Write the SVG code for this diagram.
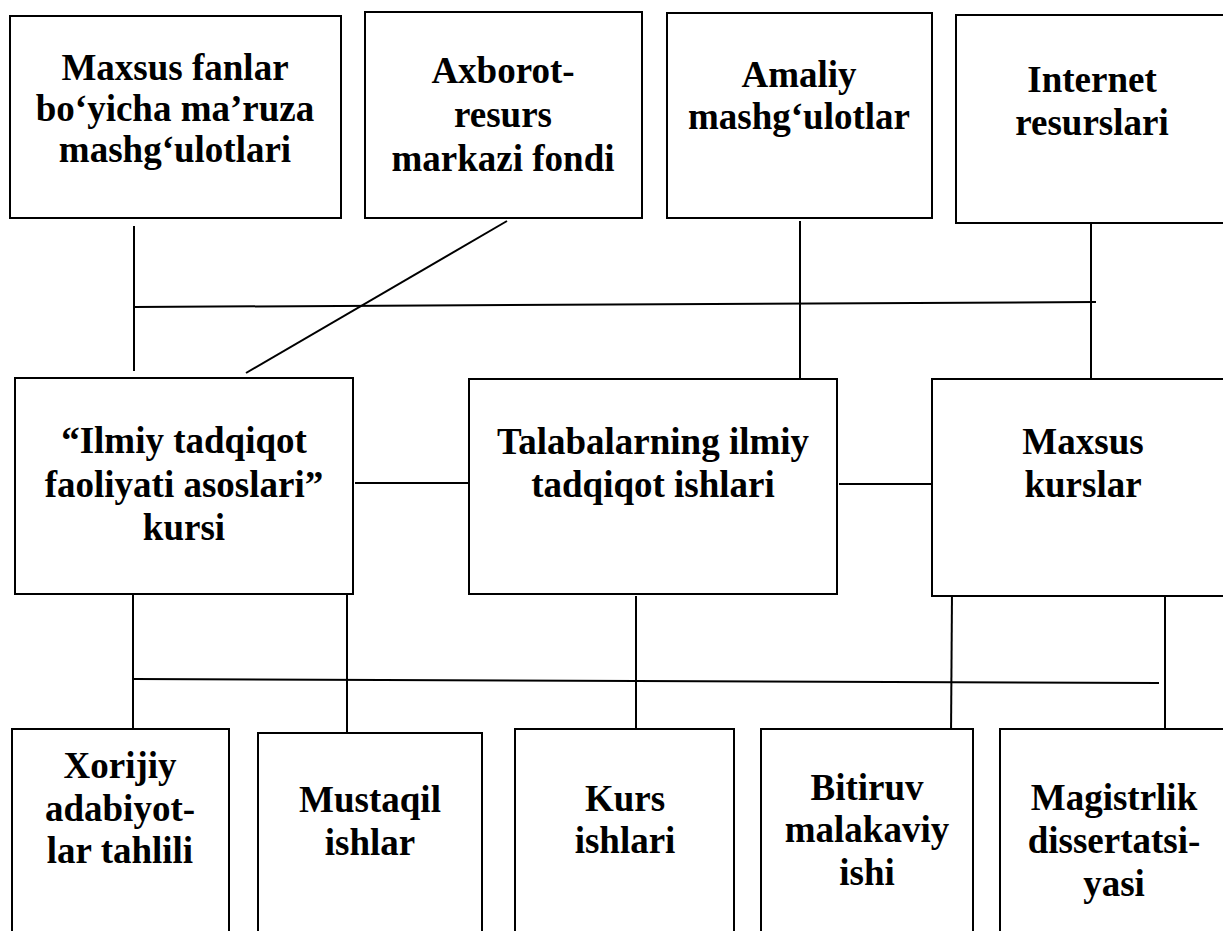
<svg xmlns="http://www.w3.org/2000/svg" width="1223" height="931" viewBox="0 0 1223 931">
<style>
.box{fill:#fff;stroke:#000;stroke-width:2}
.t{font-family:"Liberation Serif","Times New Roman",serif;font-weight:bold;font-size:37px;text-anchor:middle;fill:#000}
.c{stroke:#000;stroke-width:2;fill:none}
</style>
<rect width="1223" height="931" fill="#fff"/>
<g id="connectors">
<line class="c" x1="134" y1="226" x2="134" y2="371"/>
<line class="c" x1="134" y1="307" x2="1096" y2="302"/>
<line class="c" x1="507" y1="221" x2="246" y2="373"/>
<line class="c" x1="800" y1="221" x2="800" y2="382"/>
<line class="c" x1="1091" y1="221" x2="1091" y2="379"/>
<line class="c" x1="355" y1="483" x2="469" y2="483"/>
<line class="c" x1="839" y1="484" x2="938" y2="484"/>
<line class="c" x1="133" y1="594" x2="133" y2="729"/>
<line class="c" x1="347" y1="592" x2="347" y2="736"/>
<line class="c" x1="134" y1="679" x2="1159" y2="683"/>
<line class="c" x1="636" y1="596" x2="636" y2="732"/>
<line class="c" x1="952" y1="592" x2="951" y2="736"/>
<line class="c" x1="1165" y1="590" x2="1165" y2="733"/>
</g>
<g id="n1"><rect class="box" x="10" y="16" width="331" height="202"/>
<text class="t"><tspan x="175" y="80">Maxsus fanlar</tspan><tspan x="175" y="121">bo‘yicha ma’ruza</tspan><tspan x="175" y="162">mashg‘ulotlari</tspan></text></g>
<g id="n2"><rect class="box" x="365" y="12" width="277" height="206"/>
<text class="t"><tspan x="503" y="83">Axborot-</tspan><tspan x="503" y="127">resurs</tspan><tspan x="503" y="171">markazi fondi</tspan></text></g>
<g id="n3"><rect class="box" x="667" y="13" width="265" height="205"/>
<text class="t"><tspan x="799" y="87">Amaliy</tspan><tspan x="799" y="129">mashg‘ulotlar</tspan></text></g>
<g id="n4"><rect class="box" x="956" y="15" width="280" height="208"/>
<text class="t"><tspan x="1092" y="92">Internet</tspan><tspan x="1092" y="135">resurslari</tspan></text></g>
<g id="n5"><rect class="box" x="15" y="378" width="338" height="216"/>
<text class="t"><tspan x="184" y="453">“Ilmiy tadqiqot</tspan><tspan x="184" y="497">faoliyati asoslari”</tspan><tspan x="184" y="540">kursi</tspan></text></g>
<g id="n6"><rect class="box" x="469" y="379" width="368" height="215"/>
<text class="t"><tspan x="653" y="454">Talabalarning ilmiy</tspan><tspan x="653" y="497">tadqiqot ishlari</tspan></text></g>
<g id="n7"><rect class="box" x="932" y="379" width="300" height="217"/>
<text class="t"><tspan x="1083" y="454">Maxsus</tspan><tspan x="1083" y="497">kurslar</tspan></text></g>
<g id="n8"><rect class="box" x="12" y="729" width="217" height="215"/>
<text class="t"><tspan x="120" y="778">Xorijiy</tspan><tspan x="120" y="821">adabiyot-</tspan><tspan x="120" y="863">lar tahlili</tspan></text></g>
<g id="n9"><rect class="box" x="258" y="733" width="224" height="211"/>
<text class="t"><tspan x="370" y="812">Mustaqil</tspan><tspan x="370" y="855">ishlar</tspan></text></g>
<g id="n10"><rect class="box" x="515" y="729" width="219" height="215"/>
<text class="t"><tspan x="625" y="811">Kurs</tspan><tspan x="625" y="853">ishlari</tspan></text></g>
<g id="n11"><rect class="box" x="761" y="729" width="212" height="215"/>
<text class="t"><tspan x="867" y="800">Bitiruv</tspan><tspan x="867" y="842">malakaviy</tspan><tspan x="867" y="885">ishi</tspan></text></g>
<g id="n12"><rect class="box" x="1000" y="729" width="240" height="215"/>
<text class="t"><tspan x="1114" y="810">Magistrlik</tspan><tspan x="1114" y="853">dissertatsi-</tspan><tspan x="1114" y="896">yasi</tspan></text></g>
</svg>
